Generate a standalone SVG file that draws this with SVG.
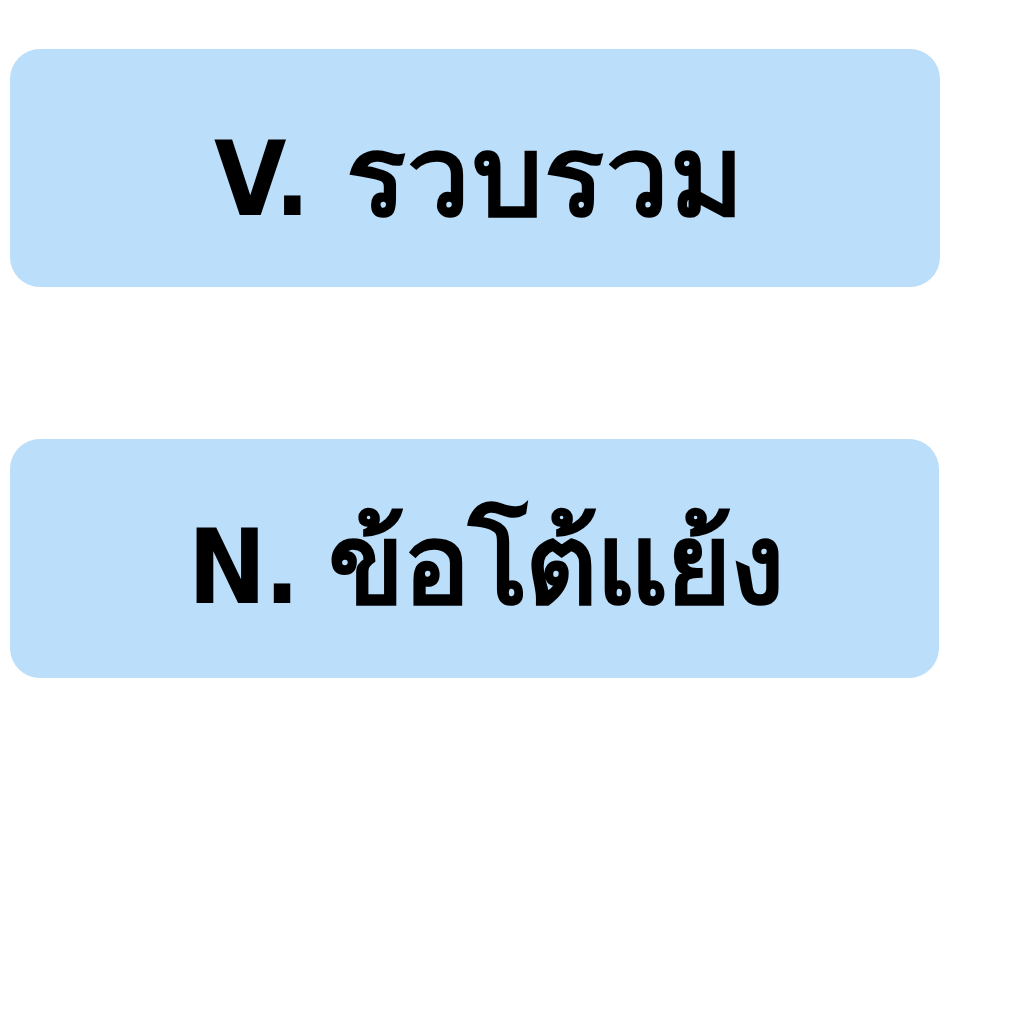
<svg xmlns="http://www.w3.org/2000/svg" width="1024" height="1024" viewBox="0 0 1024 1024">
<style>
.box{fill:#BBDEFB;}
.lbl{font-family:"Noto Sans","DejaVu Sans",sans-serif;font-weight:bold;font-size:112px;fill:#000;}
.lat{font-family:"DejaVu Sans Condensed","DejaVu Sans",sans-serif;font-size:104px;}
</style>
<rect width="1024" height="1024" fill="#FFFFFF"/>
<g id="node1">
<rect class="box" x="10" y="49" width="930" height="238" rx="30"/>
<text class="lbl" x="214" y="215" textLength="530" lengthAdjust="spacing"><tspan class="lat">V. </tspan>รวบรวม</text>
</g>
<g id="node2">
<rect class="box" x="10" y="439" width="929" height="239" rx="30"/>
<text class="lbl" x="188" y="603" textLength="597" lengthAdjust="spacing"><tspan class="lat">N. </tspan>ข้อโต้แย้ง</text>
</g>
<g id="connectors"></g>
</svg>
